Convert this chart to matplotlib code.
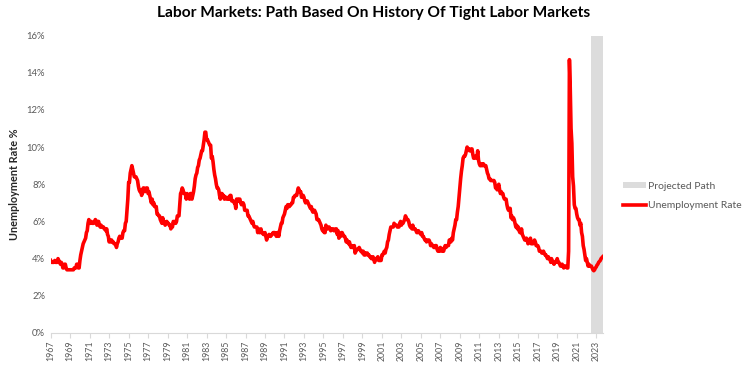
import matplotlib
matplotlib.use("Agg")
import matplotlib.pyplot as plt
from matplotlib.patches import Patch
from matplotlib.lines import Line2D
import numpy as np

plt.rcParams['font.family'] = ['Lato', 'DejaVu Sans']

# monthly unemployment rate (%), Jan 1967 onwards
rate_1967_1969 = [
    3.9, 3.8, 3.8, 3.8, 3.8, 3.9, 3.8, 3.8, 3.8, 4.0, 3.9, 3.8,
    3.7, 3.8, 3.7, 3.5, 3.5, 3.7, 3.7, 3.5, 3.4, 3.4, 3.4, 3.4,
    3.4, 3.4, 3.4, 3.4, 3.4, 3.5, 3.5, 3.5, 3.7, 3.7, 3.5, 3.5,
]
rate_1970s = [
    3.9, 4.2, 4.4, 4.6, 4.8, 4.9, 5.0, 5.1, 5.4, 5.5, 5.9, 6.1,
    5.9, 5.9, 6.0, 5.9, 5.9, 5.9, 6.0, 6.1, 6.0, 5.8, 6.0, 6.0,
    5.8, 5.7, 5.8, 5.7, 5.7, 5.7, 5.6, 5.6, 5.5, 5.6, 5.3, 5.2,
    4.9, 5.0, 4.9, 5.0, 4.9, 4.9, 4.8, 4.8, 4.8, 4.6, 4.8, 4.9,
    5.1, 5.2, 5.1, 5.1, 5.1, 5.4, 5.5, 5.5, 5.9, 6.0, 6.6, 7.2,
    8.1, 8.1, 8.6, 8.8, 9.0, 8.8, 8.6, 8.4, 8.4, 8.4, 8.3, 8.2,
    7.9, 7.7, 7.6, 7.7, 7.4, 7.6, 7.8, 7.8, 7.6, 7.7, 7.8, 7.8,
    7.5, 7.6, 7.4, 7.2, 7.0, 7.2, 6.9, 7.0, 6.8, 6.8, 6.8, 6.4,
    6.4, 6.3, 6.3, 6.1, 6.0, 5.9, 6.2, 5.9, 6.0, 5.8, 5.9, 6.0,
    5.9, 5.9, 5.8, 5.8, 5.6, 5.7, 5.7, 6.0, 5.9, 6.0, 5.9, 6.0,
]
rate_1980s = [
    6.3, 6.3, 6.3, 6.9, 7.5, 7.6, 7.8, 7.7, 7.5, 7.5, 7.5, 7.2,
    7.5, 7.4, 7.4, 7.2, 7.5, 7.5, 7.2, 7.4, 7.6, 7.9, 8.3, 8.5,
    8.6, 8.9, 9.0, 9.3, 9.4, 9.6, 9.8, 9.8, 10.1, 10.4, 10.8, 10.8,
    10.4, 10.4, 10.3, 10.2, 10.1, 10.1, 9.4, 9.5, 9.2, 8.8, 8.5, 8.3,
    8.0, 7.8, 7.8, 7.7, 7.4, 7.2, 7.5, 7.5, 7.3, 7.4, 7.2, 7.3,
    7.3, 7.2, 7.2, 7.3, 7.2, 7.4, 7.4, 7.1, 7.1, 7.1, 7.0, 7.0,
    6.7, 7.2, 7.2, 7.1, 7.2, 7.2, 7.0, 6.9, 7.0, 7.0, 6.9, 6.6,
    6.6, 6.6, 6.6, 6.3, 6.3, 6.2, 6.1, 6.0, 5.9, 6.0, 5.8, 5.7,
    5.7, 5.7, 5.7, 5.4, 5.6, 5.4, 5.4, 5.6, 5.4, 5.4, 5.3, 5.3,
    5.4, 5.2, 5.0, 5.2, 5.2, 5.3, 5.2, 5.2, 5.3, 5.3, 5.4, 5.4,
]
rate_1990s = [
    5.4, 5.3, 5.2, 5.4, 5.4, 5.2, 5.5, 5.7, 5.9, 5.9, 6.2, 6.3,
    6.4, 6.6, 6.8, 6.7, 6.9, 6.9, 6.8, 6.9, 6.9, 7.0, 7.0, 7.3,
    7.3, 7.4, 7.4, 7.4, 7.6, 7.8, 7.7, 7.6, 7.6, 7.3, 7.4, 7.4,
    7.3, 7.1, 7.0, 7.1, 7.1, 7.0, 6.9, 6.8, 6.7, 6.8, 6.6, 6.5,
    6.6, 6.6, 6.5, 6.4, 6.1, 6.1, 6.1, 6.0, 5.9, 5.8, 5.6, 5.5,
    5.6, 5.4, 5.4, 5.8, 5.6, 5.6, 5.7, 5.7, 5.6, 5.5, 5.6, 5.6,
    5.6, 5.5, 5.5, 5.6, 5.6, 5.3, 5.5, 5.1, 5.2, 5.2, 5.4, 5.4,
    5.3, 5.2, 5.2, 5.1, 4.9, 5.0, 4.9, 4.8, 4.9, 4.7, 4.6, 4.7,
    4.6, 4.6, 4.7, 4.3, 4.4, 4.5, 4.5, 4.5, 4.6, 4.5, 4.4, 4.4,
    4.3, 4.4, 4.2, 4.3, 4.2, 4.3, 4.3, 4.2, 4.2, 4.1, 4.1, 4.0,
]
rate_2000s = [
    4.0, 4.1, 4.0, 3.8, 4.0, 4.0, 4.0, 4.1, 3.9, 3.9, 3.9, 3.9,
    4.2, 4.2, 4.3, 4.4, 4.3, 4.5, 4.6, 4.9, 5.0, 5.3, 5.5, 5.7,
    5.7, 5.7, 5.7, 5.9, 5.8, 5.8, 5.8, 5.7, 5.7, 5.7, 5.9, 6.0,
    5.8, 5.9, 5.9, 6.0, 6.1, 6.3, 6.2, 6.1, 6.1, 6.0, 5.8, 5.7,
    5.7, 5.6, 5.8, 5.6, 5.6, 5.6, 5.5, 5.4, 5.4, 5.5, 5.4, 5.4,
    5.3, 5.4, 5.2, 5.2, 5.1, 5.0, 5.0, 4.9, 5.0, 5.0, 5.0, 4.9,
    4.7, 4.8, 4.7, 4.7, 4.6, 4.6, 4.7, 4.7, 4.5, 4.4, 4.5, 4.4,
    4.6, 4.5, 4.4, 4.5, 4.4, 4.6, 4.7, 4.6, 4.7, 4.7, 4.7, 5.0,
    5.0, 4.9, 5.1, 5.0, 5.4, 5.6, 5.8, 6.1, 6.1, 6.5, 6.8, 7.3,
    7.8, 8.3, 8.7, 9.0, 9.4, 9.5, 9.5, 9.6, 9.8, 10.0, 9.9, 9.9,
]
rate_2010s = [
    9.8, 9.8, 9.9, 9.9, 9.6, 9.4, 9.4, 9.5, 9.5, 9.4, 9.8, 9.3,
    9.1, 9.0, 9.0, 9.1, 9.0, 9.1, 9.0, 9.0, 9.0, 8.8, 8.6, 8.5,
    8.3, 8.3, 8.2, 8.2, 8.2, 8.2, 8.2, 8.1, 7.8, 7.8, 7.7, 7.9,
    8.0, 7.7, 7.5, 7.6, 7.5, 7.5, 7.3, 7.2, 7.2, 7.2, 6.9, 6.7,
    6.6, 6.7, 6.7, 6.2, 6.3, 6.1, 6.2, 6.1, 5.9, 5.7, 5.8, 5.6,
    5.7, 5.5, 5.4, 5.4, 5.6, 5.3, 5.2, 5.1, 5.0, 5.0, 5.1, 5.0,
    4.8, 4.9, 5.0, 5.1, 4.8, 4.9, 4.8, 4.9, 5.0, 4.9, 4.7, 4.7,
    4.7, 4.6, 4.4, 4.4, 4.4, 4.3, 4.3, 4.4, 4.3, 4.2, 4.2, 4.1,
    4.0, 4.1, 4.0, 4.0, 3.8, 4.0, 3.8, 3.8, 3.7, 3.8, 3.8, 3.9,
    4.0, 3.8, 3.8, 3.7, 3.6, 3.6, 3.7, 3.6, 3.5, 3.6, 3.6, 3.6,
]
rate_2020_2022 = [
    3.5, 3.5, 4.4, 14.7, 13.2, 11.0, 10.2, 8.4, 7.9, 6.9, 6.7, 6.7,
    6.4, 6.2, 6.1, 6.1, 5.8, 5.9, 5.4, 5.2, 4.7, 4.5, 4.2, 3.9,
    4.0, 3.8, 3.6, 3.7, 3.6, 3.6,
]
# projected path, Jul 2022 - Sep 2023
projected_path = [3.6, 3.5, 3.4, 3.35, 3.4, 3.5, 3.55, 3.65, 3.7, 3.8,
                  3.85, 3.9, 4.0, 4.05, 4.1]

start_year = 1967
y_max = 16

actual = rate_1967_1969 + rate_1970s + rate_1980s + rate_1990s + rate_2000s + rate_2010s + rate_2020_2022
rate = np.array(actual + projected_path)
idx = np.arange(len(rate))
proj_idx = idx[len(actual):]

fig = plt.figure(figsize=(7.48, 3.73), dpi=100)
ax = fig.add_axes([50.7 / 748, 40 / 373, 552 / 748, 297.5 / 373])

ax.bar(proj_idx, [y_max] * len(proj_idx), width=1.0, color='#dcdcdc', linewidth=0, zorder=1)
ax.plot(idx, rate, color='#ff0000', linewidth=2.6, solid_joinstyle='round', zorder=3)

ax.set_xlim(0, len(rate) - 1)
ax.set_ylim(0, y_max)

tick_pos = idx[::24]
ax.set_xticks(tick_pos)
ax.set_xticklabels([str(start_year + p // 12) for p in tick_pos], rotation=90)
ax.set_yticks(np.arange(0, 17, 2))
ax.set_yticklabels([f'{v}%' for v in range(0, 17, 2)])

for s in ['top', 'right', 'left']:
    ax.spines[s].set_visible(False)
ax.spines['bottom'].set_color('#d9d9d9')
ax.tick_params(axis='x', colors='#d9d9d9', labelcolor='#595959', labelsize=6.3,
               length=3.5, width=0.8, pad=2)
ax.tick_params(axis='y', length=0, labelcolor='#595959', labelsize=6.8, pad=4)

ax.set_ylabel('Unemployment Rate %', fontsize=7.8, fontweight='bold', color='#262626', labelpad=5)

fig.text(0.5, 0.965, 'Labor Markets: Path Based On History Of Tight Labor Markets',
         ha='center', va='center', fontsize=11.2, fontweight='bold', color='black')

handles = [Patch(facecolor='#dcdcdc', edgecolor='none'),
           Line2D([0], [0], color='#ff0000', linewidth=2.6)]
fig.legend(handles, ['Projected Path', 'Unemployment Rate'], loc='center left',
           bbox_to_anchor=(614 / 748, 1 - 196 / 373), frameon=False, fontsize=7.5,
           labelcolor='#595959', handlelength=2.2, handleheight=0.5,
           handletextpad=0.15, labelspacing=1.0)

fig.savefig('out.png', dpi=100)
